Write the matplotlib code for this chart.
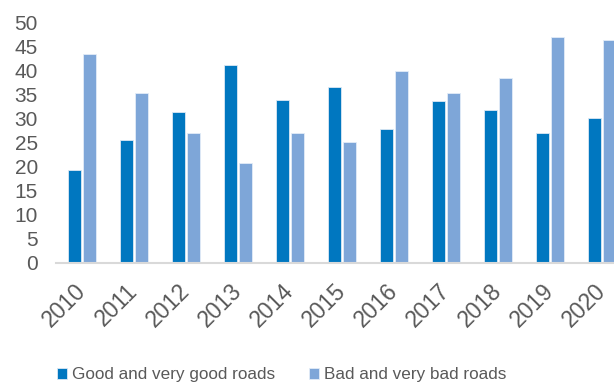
import matplotlib
matplotlib.use("Agg")
import matplotlib.pyplot as plt
import matplotlib.transforms as mtransforms
import numpy as np

# Share of roads by condition, %
years = ["2010", "2011", "2012", "2013", "2014", "2015",
         "2016", "2017", "2018", "2019", "2020"]
good = [19.4, 25.6, 31.3, 41.1, 34.0, 36.7, 27.8, 33.6, 31.8, 27.0, 30.1]
bad = [43.4, 35.4, 27.0, 20.7, 27.0, 25.1, 39.9, 35.4, 38.5, 47.0, 46.5]
yticks = [0, 5, 10, 15, 20, 25, 30, 35, 40, 45, 50]

plt.rcParams['font.family'] = ['Liberation Sans', 'DejaVu Sans']

fig = plt.figure(figsize=(6.14, 3.83), dpi=100)
# axes run slightly past the right edge, like the cropped original
ax = fig.add_axes([56 / 614, 120.3 / 383, 572 / 614, 240 / 383])

x = np.arange(len(years))
w = 0.25
ax.bar(x - w / 2 - 0.015, good, w, color='#0077C0', edgecolor='#dce8f4', linewidth=0.6,
       label='Good and very good roads')
ax.bar(x + w / 2 + 0.015, bad, w, color='#7EA6D8', edgecolor='#e3ecf7', linewidth=0.6,
       label='Bad and very bad roads')

ax.set_xlim(-0.5, len(years) - 0.5)
ax.set_ylim(0, 50)
ax.set_yticks(yticks)
ax.set_xticks(x)
ax.set_xticklabels(years, rotation=45, ha='right', va='center', rotation_mode='anchor',
                   fontsize=16.5)
shift = mtransforms.ScaledTranslation(-2.5 / 100, 0, fig.dpi_scale_trans)
for lab in ax.get_xticklabels():
    lab.set_transform(lab.get_transform() + shift)

for s in ['top', 'right', 'left']:
    ax.spines[s].set_visible(False)
ax.spines['bottom'].set_color('#d9d9d9')
ax.spines['bottom'].set_linewidth(1.5)
ax.tick_params(axis='both', length=0, labelcolor='#595959')
ax.tick_params(axis='y', labelsize=15, pad=13)
ax.tick_params(axis='x', pad=18)

leg = fig.legend(loc='center', bbox_to_anchor=(281.5 / 614, 1 - 375 / 383), ncol=2,
                 frameon=False, fontsize=12.3, handlelength=0.56, handleheight=0.56,
                 handletextpad=0.3, columnspacing=2.0)
for t in leg.get_texts():
    t.set_color('#595959')

fig.savefig('out.png', dpi=100)
